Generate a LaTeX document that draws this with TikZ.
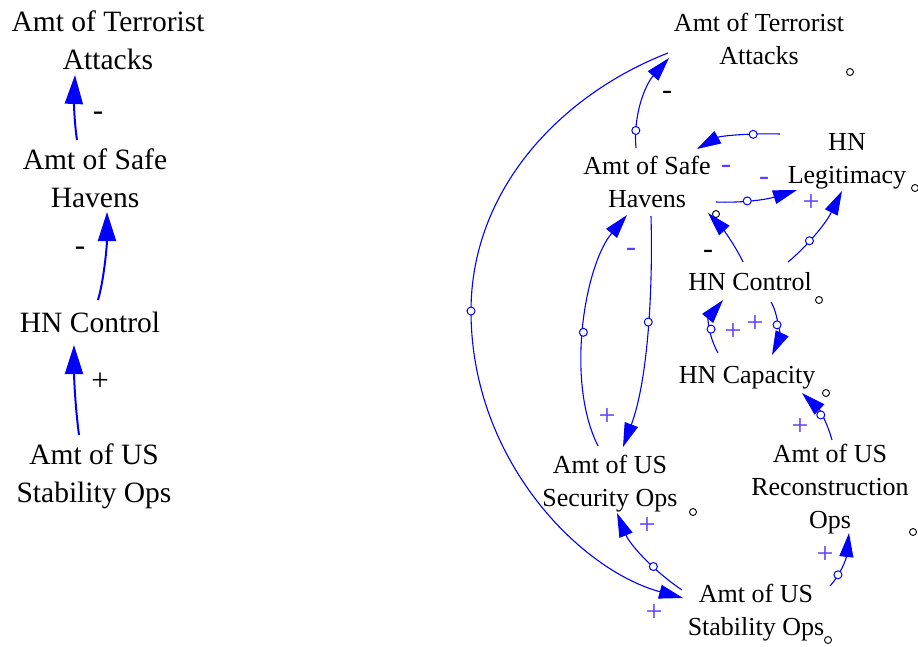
\documentclass[tikz,border=0pt]{standalone}
\usepackage{fontspec}
\setmainfont{Liberation Serif}
\usetikzlibrary{arrows.meta,calc}
\definecolor{vblue}{RGB}{0,0,255}
\definecolor{vlab}{RGB}{90,60,255}
\begin{document}
\begin{tikzpicture}[x=1pt,y=-1pt,
  bigtxt/.style={align=center,inner sep=0pt,font=\fontsize{29.5}{38}\selectfont},
  smtxt/.style={align=center,inner sep=0pt,font=\fontsize{26}{33}\selectfont},
  bigarr/.style={draw=vblue,line width=2pt,-{Triangle[length=29pt,width=18pt]}},
  smarr/.style={draw=vblue,line width=1.1pt,-{Triangle[length=24pt,width=14pt]}},
  handle/.style={circle,draw=vblue,fill=white,line width=1pt,inner sep=0pt,minimum size=8pt},
  shadowc/.style={circle,draw=black,fill=white,line width=0.9pt,inner sep=0pt,minimum size=7pt},
  biglab/.style={inner sep=0pt,font=\fontsize{31}{36}\selectfont},
  smlab/.style={inner sep=0pt,text=vlab,font=\fontsize{30}{32}\selectfont},
  smlabk/.style={inner sep=0pt,text=black,font=\fontsize{30}{32}\selectfont},
]
\useasboundingbox (0,0) rectangle (918,646);

% ---------- left chain ----------
\node[bigtxt] (TL) at (108,43) {\strut Amt of Terrorist\\\strut Attacks};
\node[bigtxt] (SL) at (95,181) {\strut Amt of Safe\\\strut Havens};
\node[bigtxt] (CL) at (90,325) {\strut HN Control};
\node[bigtxt] (StabL) at (94,476) {\strut Amt of US\\\strut Stability Ops};

\draw[bigarr] ($(SL)+(-18,-41)$) .. controls (74,120) and (74,100) .. ($(TL)+(-33,32)$);
\draw[bigarr] ($(CL)+(8,-25)$) .. controls (104,280) and (107,245) .. ($(SL)+(12,31)$);
\draw[bigarr] ($(StabL)+(-15,-41)$) .. controls (75,405) and (74,375) .. ($(CL)+(-16,20)$);

\node[biglab] (l1) at (98,116) {-};
\node[biglab] (l2) at (80,251) {-};
\node[biglab] (l3) at (100,382) {+};

% ---------- right diagram ----------
\node[smtxt] (T2) at (759,41) {\strut Amt of Terrorist\\\strut Attacks};
\node[smtxt] (S2) at (647,184) {\strut Amt of Safe\\\strut Havens};
\node[smtxt] (L2) at (847,160) {\strut HN\\\strut Legitimacy};
\node[smtxt] (C2) at (750,284) {\strut HN Control};
\node[smtxt] (Cap2) at (747,377) {\strut HN Capacity};
\node[smtxt] (Sec2) at (610,483) {\strut Amt of US\\\strut Security Ops};
\node[smtxt] (Rec2) at (830,489) {\strut Amt of US\\\strut Reconstruction\\\strut Ops};
\node[smtxt] (Stab2) at (756,612) {\strut Amt of US\\\strut Stability Ops};

% connectors
\draw[smarr] ($(S2)+(-11,-36)$) .. controls (633,115) and (645,85) .. ($(T2)+(-90,17)$) node[handle,pos=0.18] {};
\draw[smarr] ($(T2)+(-91,12)$) .. controls (560,95) and (471,190) .. (471,311) node[handle,pos=1] {}
   .. controls (471,460) and (580,570) .. ($(Stab2)+(-73,-14)$);
\draw[smarr] ($(Sec2)+(-12,-37)$) .. controls (565,380) and (585,265) .. ($(S2)+(-20,31)$) node[handle,pos=0.47] {};
\draw[smarr] ($(S2)+(4,32)$) .. controls (653,290) and (648,380) .. ($(Sec2)+(13,-36)$) node[handle,pos=0.45] {};
\draw[smarr] ($(L2)+(-67,-26)$) .. controls (750,133) and (720,136) .. ($(S2)+(50,-35)$) node[handle,pos=0.3] {};
\draw[smarr] ($(S2)+(69,18)$) .. controls (740,203) and (765,200) .. ($(L2)+(-50,30)$) node[handle,pos=0.42] {};
\draw[smarr] ($(C2)+(38,-22)$) .. controls (805,248) and (825,225) .. ($(L2)+(-5,31)$) node[handle,pos=0.4] {};
\draw[smarr] ($(C2)+(-7,-22)$) .. controls (735,245) and (722,228) .. ($(S2)+(61,29)$);
\draw[smarr] ($(Cap2)+(-29,-24)$) .. controls (708,335) and (708,318) .. ($(C2)+(-27,16)$) node[handle,pos=0.45] {};
\draw[smarr] ($(C2)+(21,18)$) .. controls (779,315) and (779,340) .. ($(Cap2)+(25,-22)$) node[handle,pos=0.45] {};
\draw[smarr] ($(Rec2)+(2,-49)$) .. controls (828,425) and (820,410) .. ($(Cap2)+(55,16)$) node[handle,pos=0.55] {};
\draw[smarr] ($(Stab2)+(74,-26)$) .. controls (840,575) and (846,560) .. ($(Rec2)+(19,44)$) node[handle,pos=0.3] {};
\draw[smarr] ($(Stab2)+(-74,-22)$) .. controls (655,572) and (630,545) .. ($(Sec2)+(7,30)$) node[handle,pos=0.37] {};

% polarity labels
\node[smlabk] (p1) at (667,95) {-};
\node[smlab] (p2) at (654,613) {+};
\node[smlab] (p3) at (647,526) {+};
\node[smlab] (p4) at (631,252) {-};
\node[smlab] (p5) at (607,417) {+};
\node[smlab] (p6) at (726,169) {-};
\node[smlab] (p7) at (764,181) {-};
\node[smlab] (p8) at (811,203) {+};
\node[smlabk] (p9) at (708,254) {-};
\node[smlab] (p10) at (733,332) {+};
\node[smlab] (p11) at (755,324) {+};
\node[smlab] (p12) at (800,427) {+};
\node[smlab] (p13) at (825,555) {+};

% shadow markers
\node[shadowc] (k1) at (850,72) {};
\node[shadowc] (k2) at (915,188) {};
\node[shadowc] (k3) at (716,214) {};
\node[shadowc] (k4) at (819,300) {};
\node[shadowc] (k5) at (826,393) {};
\node[shadowc] (k6) at (693,512) {};
\node[shadowc] (k7) at (913,532) {};
\node[shadowc] (k8) at (828,640) {};
\end{tikzpicture}
\end{document}
